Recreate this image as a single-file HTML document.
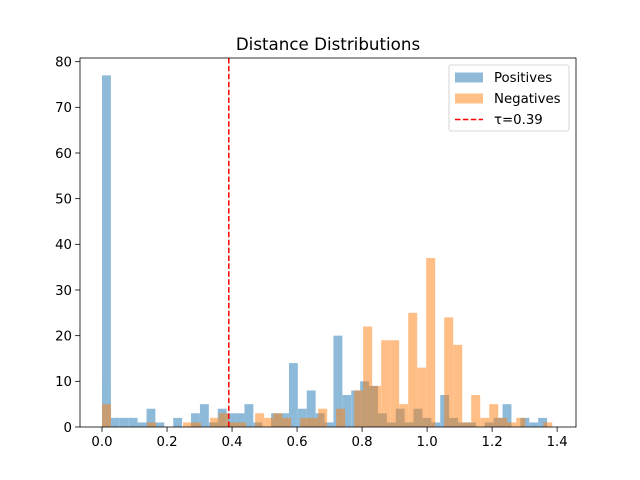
<!DOCTYPE html>
<html><head><meta charset="utf-8"><style>body{margin:0;background:#fff}svg{display:block;font-family:"DejaVu Sans","Liberation Sans",sans-serif}</style></head>
<body>
<svg id="chart" width="640" height="480" xmlns="http://www.w3.org/2000/svg"></svg>
<script>
const positives = [77,2,2,2,1,4,1,0,2,0,3,5,1,4,3,3,5,1,0,3,3,14,4,8,3,1,20,7,8,10,9,3,1,4,1,4,2,1,7,2,1,1,0,1,2,5,0,2,1,2];
const negatives = [5,0,0,0,0,1,0,0,0,1,1,0,2,3,1,1,0,3,2,3,2,0,2,2,4,0,4,0,8,22,9,19,19,5,25,13,37,0,24,18,1,7,2,5,2,1,2,0,0,1];
const posRange = [0, 1.369];
const negRange = [0, 1.385];
const threshold = 0.39;
const xTicks = [0,0.2,0.4,0.6,0.8,1.0,1.2,1.4];
const yTicks = [0,10,20,30,40,50,60,70,80];

const L=80,R=576,T=58,B=427;
const xMin=-0.0677,xMax=1.458,yMax=80.8;
const x=v=>L+(v-xMin)/(xMax-xMin)*(R-L);
const y=v=>B-v/yMax*(B-T);
const svg=document.getElementById('chart');
const NS='http://www.w3.org/2000/svg';
function mk(tag,attrs,parent){const e=document.createElementNS(NS,tag);for(const k in attrs)e.setAttribute(k,attrs[k]);(parent||svg).appendChild(e);return e;}

function drawHist(data,range,color,name){
  const g=mk('g',{opacity:0.5});
  
  
  const w=(range[1]-range[0])/data.length;
  data.forEach((c,i)=>{
    if(c<=0)return;
    const x0=x(range[0]+i*w),x1=x(range[0]+(i+1)*w);
    const r=mk('rect',{x:x0,y:y(c),width:x1-x0,height:y(0)-y(c),fill:color},g);
    
    
  });
}
drawHist(positives,posRange,'#1f77b4','positives');
drawHist(negatives,negRange,'#ff7f0e','negatives');

const tl=mk('line',{x1:x(threshold),x2:x(threshold),y1:T,y2:B,stroke:'#ff0000','stroke-width':1.5,'stroke-dasharray':'5.5,2.4'});



const frame=mk('rect',{x:L,y:T,width:R-L,height:B-T,fill:'none',stroke:'#000','stroke-width':0.8});



xTicks.forEach(v=>{
  mk('line',{x1:x(v),x2:x(v),y1:B,y2:B+4.9,stroke:'#000','stroke-width':0.8});
  const t=mk('text',{x:x(v),y:B+19,'font-size':13.3,'text-anchor':'middle'});
  t.textContent=v.toFixed(1);
  
  
});
yTicks.forEach(v=>{
  mk('line',{x1:L,x2:L-4.9,y1:y(v),y2:y(v),stroke:'#000','stroke-width':0.8});
  const t=mk('text',{x:L-8,y:y(v)+4.8,'font-size':13.3,'text-anchor':'end'});
  t.textContent=v;
  
  
});
const title=mk('text',{x:(L+R)/2,y:50,'font-size':16.7,'text-anchor':'middle'});
title.textContent='Distance Distributions';



const lg=mk('g',{});


mk('rect',{x:449,y:65,width:120,height:66,rx:2,fill:'#fff','fill-opacity':0.8,stroke:'#ccc','stroke-width':0.8},lg);
const items=[['Positives','#1f77b4','bar'],['Negatives','#ff7f0e','bar'],['τ=0.39','#ff0000','line']];
items.forEach((it,i)=>{
  const cy=76+i*21;
  if(it[2]==='bar'){
    mk('rect',{x:455,y:cy-3.5,width:28,height:10,fill:it[1],opacity:0.5},lg);
  }else{
    mk('line',{x1:455,x2:483,y1:cy+1.5,y2:cy+1.5,stroke:it[1],'stroke-width':1.5,'stroke-dasharray':'5.5,2.4'},lg);
  }
  const t=mk('text',{x:494,y:cy+6,'font-size':13.3},lg);
  t.textContent=it[0];
  
  
});
</script>
</body></html>
